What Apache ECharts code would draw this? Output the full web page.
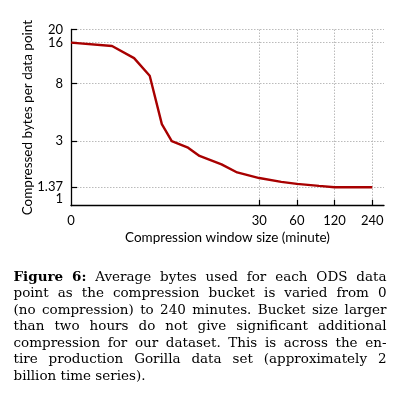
<!DOCTYPE html>
<html><head><meta charset="utf-8">
<script src="https://cdn.jsdelivr.net/npm/echarts@6/dist/echarts.min.js"></script>
<style>html,body{margin:0;padding:0;background:#fff}#c{width:415px;height:397px}</style>
</head><body><div id="c"></div>
<script>
// ---- data ----
const windowMinutes = [0, 2, 3, 4, 5, 6, 8, 10, 15, 20, 30, 45, 60, 90, 120, 180, 240];
const bytesPerPoint = [16, 15.1, 12.3, 9.1, 4.0, 3.0, 2.7, 2.33, 2.02, 1.76, 1.60, 1.50, 1.45, 1.40, 1.37, 1.37, 1.37];
const xTickLabels = [0, 30, 60, 120, 240];
const yTickLabels = [1.37, 3, 8, 16, 20];
const yBaseLabel = [1];
const xAxisTitle = 'Compression window size (minute)';
const yAxisTitle = 'Compressed bytes per data point';
const captionLines = [
  'Figure 6: Average bytes used for each ODS data',
  'point as the compression bucket is varied from 0',
  '(no compression) to 240 minutes. Bucket size larger',
  'than two hours do not give significant additional',
  'compression for our dataset. This is across the en-',
  'tire production Gorilla data set (approximately 2',
  'billion time series).'
];

// "0" (no compression) sits at the left end of the log axis
const X_ZERO = 0.94;
const X_MAX = 298;
const toX = m => (m === 0 ? X_ZERO : m);

const chart = echarts.init(document.getElementById('c'), null, {renderer: 'canvas'});
const labelFont = 'Lato';
const LS = 13;

// caption, justified word by word
const CAP_FAMILY = 'DejaVu Serif';
const CAP_SIZE = 13.5;
const CAP_W = 373, CAP_X = 13.5, CAP_Y = 277, CAP_LH = 16.5;
const mctx = document.createElement('canvas').getContext('2d');
const captionEls = [];
captionLines.forEach((line, li) => {
  const words = line.split(' ');
  const bold = words.map((w, wi) => li === 0 && wi < 2);
  const widths = words.map((w, i) => {
    mctx.font = (bold[i] ? 'bold ' : '') + CAP_SIZE + 'px "' + CAP_FAMILY + '"';
    return mctx.measureText(w).width;
  });
  const total = widths.reduce((a, b) => a + b, 0);
  mctx.font = CAP_SIZE + 'px "' + CAP_FAMILY + '"';
  const sp = mctx.measureText(' ').width;
  const isLast = li === captionLines.length - 1;
  const gap = isLast ? sp : Math.max(2, (CAP_W - total) / (words.length - 1));
  let x = CAP_X;
  words.forEach((w, i) => {
    captionEls.push({
      type: 'text', x: x, y: CAP_Y + li * CAP_LH,
      style: {text: w, fontSize: CAP_SIZE, fontFamily: CAP_FAMILY,
              fontWeight: bold[i] ? 'bold' : 'normal', fill: '#000', verticalAlign: 'middle'}
    });
    x += widths[i] + gap;
  });
});

const fmtY = v => String(Math.round(v * 100) / 100);
const gridLine = {show: true, lineStyle: {color: '#bbb', type: [1.5, 1.5], width: 1}};

chart.setOption({
  animation: false,
  backgroundColor: '#fff',
  grid: {left: 71, right: 31, top: 29.5, bottom: 191.3, containLabel: false, outerBoundsMode: 'none'},
  xAxis: {
    type: 'log', logBase: 2, min: X_ZERO, max: X_MAX,
    name: xAxisTitle, nameLocation: 'middle', nameGap: 25, nameMoveOverlap: false,
    nameTextStyle: {fontFamily: labelFont, fontSize: 13.5, color: '#000'},
    axisLine: {lineStyle: {color: '#000', width: 1.3}},
    axisTick: {show: true, inside: true, length: 6, customValues: [30, 60, 120, 240],
               lineStyle: {color: '#000', width: 1.2}},
    axisLabel: {customValues: xTickLabels.map(toX), margin: 9,
                fontFamily: labelFont, fontSize: LS, color: '#000',
                formatter: v => (v < 1 ? '0' : String(Math.round(v)))},
    splitLine: gridLine,
    minorTick: {show: false}, minorSplitLine: {show: false}
  },
  yAxis: [{
    type: 'log', logBase: 10, min: 1, max: 20,
    name: yAxisTitle, nameLocation: 'middle', nameGap: 36, nameMoveOverlap: false,
    nameTextStyle: {fontFamily: labelFont, fontSize: 13.5, color: '#000'},
    axisLine: {show: true, lineStyle: {color: '#000', width: 1.3}},
    axisTick: {show: true, inside: true, length: 6, customValues: [1.37, 3, 8, 16, 20],
               lineStyle: {color: '#000', width: 1.2}},
    axisLabel: {customValues: yTickLabels, margin: 8,
                fontFamily: labelFont, fontSize: LS, color: '#000', formatter: fmtY},
    splitLine: gridLine,
    minorTick: {show: false}, minorSplitLine: {show: false}
  }, {
    // same scale, only carries the "1" label which sits just above the x axis
    type: 'log', logBase: 10, min: 1, max: 20, position: 'left',
    axisLine: {show: false}, axisTick: {show: false}, splitLine: {show: false},
    axisLabel: {customValues: yBaseLabel, margin: 8, showMinLabel: true, verticalAlign: 'bottom',
                fontFamily: labelFont, fontSize: LS, color: '#000', formatter: fmtY},
    minorTick: {show: false}, minorSplitLine: {show: false}
  }],
  series: [{
    type: 'line', xAxisIndex: 0, yAxisIndex: 0,
    data: windowMinutes.map((m, i) => [toX(m), bytesPerPoint[i]]),
    showSymbol: false, symbol: 'none',
    lineStyle: {color: '#a80000', width: 2.4},
    clip: true
  }],
  graphic: captionEls
});
</script></body></html>
